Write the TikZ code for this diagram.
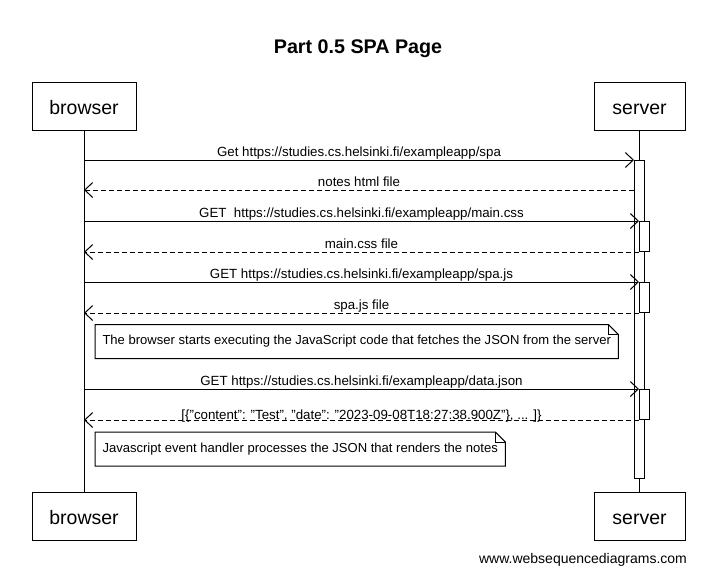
\documentclass[tikz,border=0pt]{standalone}
\usepackage{fontspec}
\setmainfont{Liberation Sans}
\usetikzlibrary{arrows.meta,calc}
\begin{document}
\begin{tikzpicture}[x=1pt,y=-1pt,line width=1pt,
  actor/.style={draw,fill=white,minimum height=48pt,inner sep=0pt,text height=18pt,text depth=2pt,font=\fontsize{19.5}{22}\selectfont},
  act/.style={draw,fill=white,minimum width=10pt,inner sep=0pt,anchor=north},
  msg/.style={-{Straight Barb[length=8pt,width=15pt]}},
  ret/.style={msg,dash pattern=on 5pt off 3pt},
  lbl/.style={midway,anchor=base,yshift=4pt,inner sep=0pt,font=\fontsize{13.3}{15}\selectfont},
  notebox/.style={anchor=west,inner xsep=7pt,inner ysep=0pt,minimum height=33pt,font=\fontsize{13.05}{15}\selectfont},
  fold/.style={line width=1pt}
]
\useasboundingbox (0,0) rectangle (725,582);
\fill[white] (0,0) rectangle (725,582);

\node[font=\bfseries\fontsize{19.7}{22}\selectfont] (title) at (358,49) {Part 0.5 SPA Page};

\node[actor,minimum width=104pt] (b1) at (84,106) {browser};
\node[actor,minimum width=91pt] (s1) at (639.5,106) {server};
\node[actor,minimum width=104pt] (b2) at (84,516.5) {browser};
\node[actor,minimum width=91pt] (s2) at (639.5,516.5) {server};

\draw (b1) -- (b2);
\draw (s1) -- (s2);

\node[act,minimum height=318pt] (a0) at (639.5,160) {};
\node[act,minimum height=30pt,xshift=5pt] (a1) at (639.5,221) {};
\node[act,minimum height=30pt,xshift=5pt] (a2) at (639.5,282) {};
\node[act,minimum height=30pt,xshift=5pt] (a3) at (639.5,389) {};

\draw[msg] (b1.south |- a0.north) -- node[lbl]{Get https://studies.cs.helsinki.fi/exampleapp/spa} (a0.north west);
\draw[ret] (a0.west |- 0,190) -- node[lbl]{notes html file} (b1.south |- 0,190);
\draw[msg] (b1.south |- a1.north) -- node[lbl]{GET\ \ https://studies.cs.helsinki.fi/exampleapp/main.css} (a1.north west);
\draw[ret] (a1.south west) -- node[lbl]{main.css file} (b1.south |- a1.south);
\draw[msg] (b1.south |- a2.north) -- node[lbl]{GET https://studies.cs.helsinki.fi/exampleapp/spa.js} (a2.north west);
\draw[ret] (a2.south west) -- node[lbl]{spa.js file} (b1.south |- a2.south);

\node[notebox] (n1) at (95,341.5) {The browser starts executing the JavaScript code that fetches the JSON from the server};
\draw (n1.north west) -- ($(n1.north east)+(-10,0)$) -- ($(n1.north east)+(0,10)$) -- (n1.south east) -- (n1.south west) -- cycle;
\draw[fold] ($(n1.north east)+(-10,0)$) -- ($(n1.north east)+(-10,10)$) -- ($(n1.north east)+(0,10)$);

\draw[msg] (b1.south |- a3.north) -- node[lbl]{GET https://studies.cs.helsinki.fi/exampleapp/data.json} (a3.north west);
\draw[ret] (a3.south west) -- node[lbl,yshift=-3pt]{[\{"content": "Test", "date": "2023-09-08T18:27:38.900Z"\}, ... ]\}} (b1.south |- a3.south);

\node[notebox] (n2) at (95,449) {Javascript event handler processes the JSON that renders the notes};
\draw (n2.north west) -- ($(n2.north east)+(-10,0)$) -- ($(n2.north east)+(0,10)$) -- (n2.south east) -- (n2.south west) -- cycle;
\draw[fold] ($(n2.north east)+(-10,0)$) -- ($(n2.north east)+(-10,10)$) -- ($(n2.north east)+(0,10)$);

\node[font=\fontsize{14}{16}\selectfont] (wm) at (583,560) {www.websequencediagrams.com};
\end{tikzpicture}
\end{document}
